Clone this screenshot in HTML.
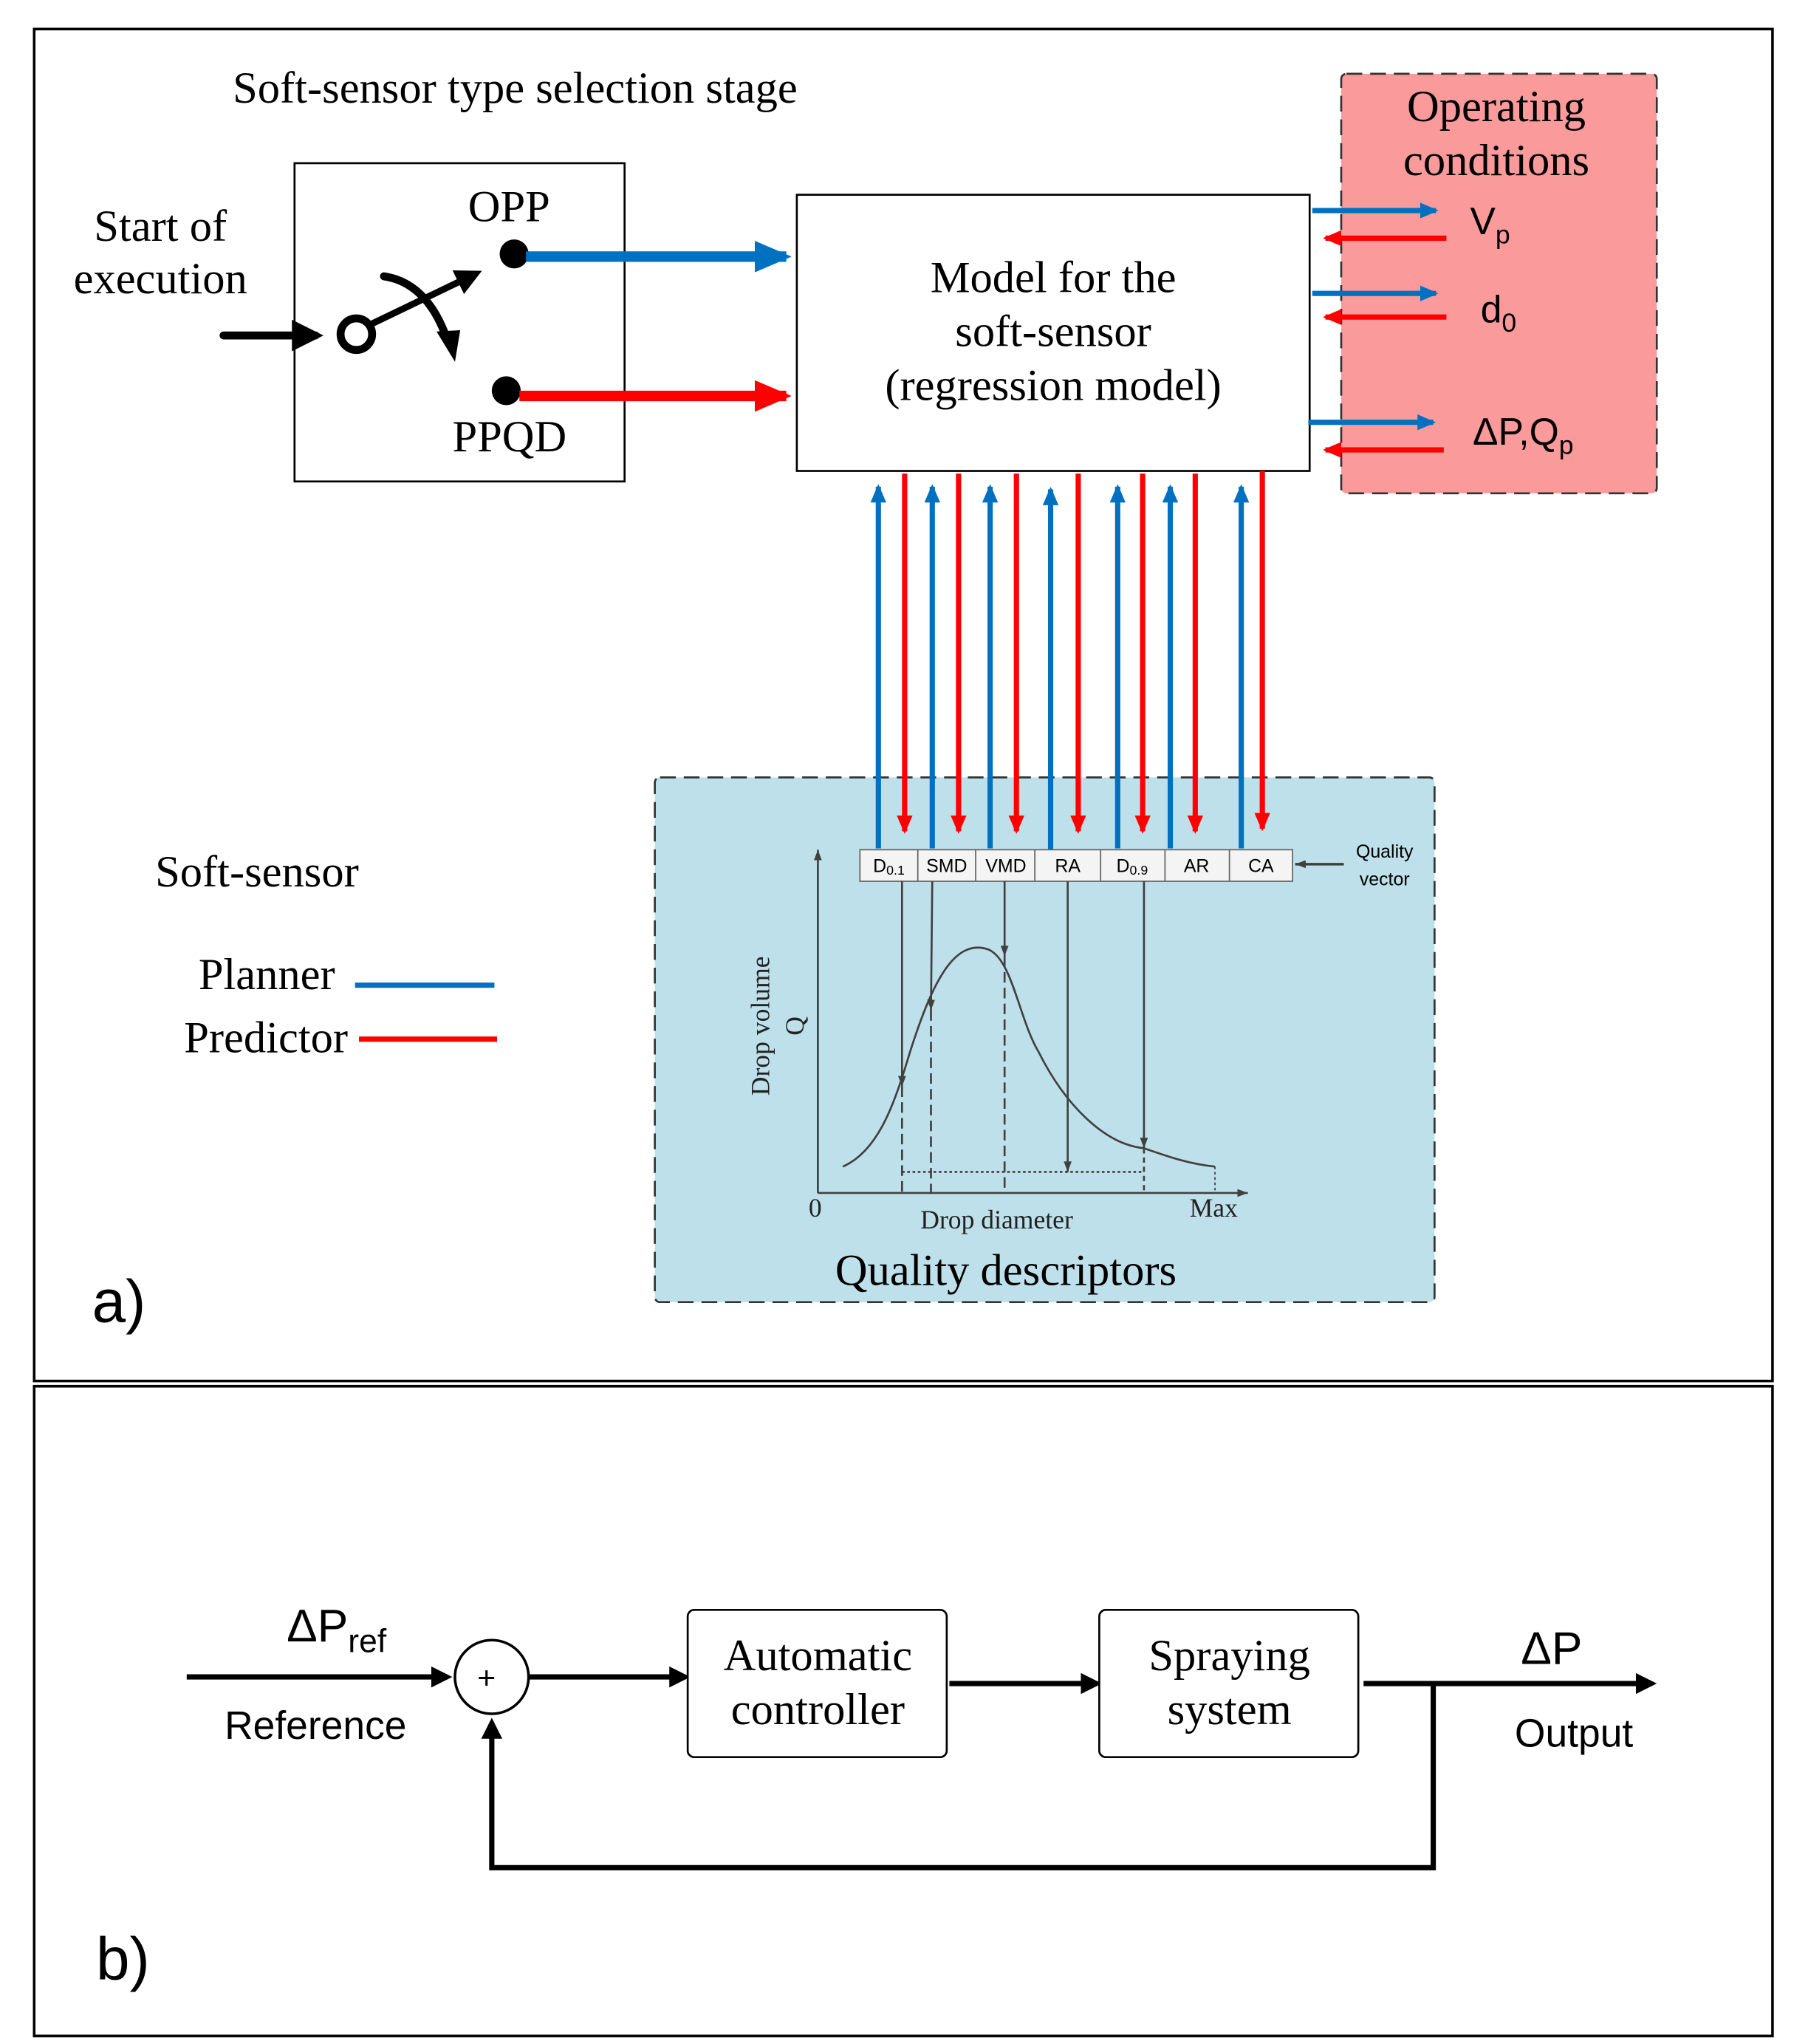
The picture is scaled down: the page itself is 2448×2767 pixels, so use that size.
<!DOCTYPE html>
<html><head><meta charset="utf-8"><style>
html,body{margin:0;padding:0;background:#fff}
svg{display:block}
.s{font-family:"Liberation Serif",serif}
.a{font-family:"Liberation Sans",sans-serif}
</style></head><body>
<svg width="2448" height="2767" viewBox="0 0 1375 1554" xmlns="http://www.w3.org/2000/svg">
<defs>
<marker id="bk" markerWidth="4" markerHeight="4" refX="3" refY="2" orient="auto" markerUnits="strokeWidth"><path d="M0,0 L4,2 L0,4 z" fill="#000"/></marker>
<marker id="bl" markerWidth="3.5" markerHeight="3" refX="3" refY="1.5" orient="auto" markerUnits="strokeWidth"><path d="M0,0 L3.5,1.5 L0,3 z" fill="#0070c0"/></marker>
<marker id="rd" markerWidth="3.5" markerHeight="3" refX="3" refY="1.5" orient="auto" markerUnits="strokeWidth"><path d="M0,0 L3.5,1.5 L0,3 z" fill="#ff0000"/></marker>
<marker id="gy" markerWidth="8" markerHeight="6" refX="8" refY="3" orient="auto" markerUnits="userSpaceOnUse"><path d="M0,0 L8,3 L0,6 z" fill="#404040"/></marker>
</defs>
<rect width="1375" height="1554" fill="#fff"/>
<rect x="26" y="22" width="1322" height="1028" fill="none" stroke="#000" stroke-width="2"/>
<rect x="26" y="1054" width="1322" height="494" fill="none" stroke="#000" stroke-width="2"/>

<text x="177" y="78" class="s" font-size="34">Soft-sensor type selection stage</text>
<rect x="224" y="124" width="251" height="242" fill="none" stroke="#000" stroke-width="1.5"/>
<text x="356" y="168" class="s" font-size="34">OPP</text>
<text x="344" y="343" class="s" font-size="34">PPQD</text>
<text x="122" y="183" class="s" font-size="34" text-anchor="middle">Start of</text>
<text x="122" y="223" class="s" font-size="34" text-anchor="middle">execution</text>
<line x1="170" y1="255" x2="240" y2="255" stroke="#000" stroke-width="6" stroke-linecap="round" marker-end="url(#bk)"/>
<circle cx="271" cy="254" r="12" fill="#fff" stroke="#000" stroke-width="6"/>
<line x1="283" y1="246" x2="362" y2="208" stroke="#000" stroke-width="5" marker-end="url(#bk)"/>
<path d="M292,210 Q325,215 340,258" fill="none" stroke="#000" stroke-width="6" stroke-linecap="round"/>
<path d="M332,252 L350,251 L346,275 z" fill="#000"/>
<circle cx="391" cy="193" r="11" fill="#000"/>
<circle cx="385" cy="297" r="11" fill="#000"/>
<line x1="400" y1="195" x2="598" y2="195" stroke="#0070c0" stroke-width="8" marker-end="url(#bl)"/>
<line x1="395" y1="301" x2="598" y2="301" stroke="#ff0000" stroke-width="8" marker-end="url(#rd)"/>

<rect x="606" y="148" width="390" height="210" fill="#fff" stroke="#000" stroke-width="1.5"/>
<text x="801" y="222" class="s" font-size="34" text-anchor="middle">Model for the</text>
<text x="801" y="263" class="s" font-size="34" text-anchor="middle">soft-sensor</text>
<text x="801" y="304" class="s" font-size="34" text-anchor="middle">(regression model)</text>

<rect x="1020" y="56" width="240" height="319" rx="4" fill="#fa9a9a" stroke="#333" stroke-width="1.5" stroke-dasharray="12,6"/>
<text x="1138" y="92" class="s" font-size="34" text-anchor="middle">Operating</text>
<text x="1138" y="133" class="s" font-size="34" text-anchor="middle">conditions</text>
<line x1="998" y1="160" x2="1092" y2="160" stroke="#0070c0" stroke-width="4" marker-end="url(#bl)"/>
<line x1="1100" y1="181" x2="1008" y2="181" stroke="#ff0000" stroke-width="4" marker-end="url(#rd)"/>
<line x1="998" y1="223" x2="1092" y2="223" stroke="#0070c0" stroke-width="4" marker-end="url(#bl)"/>
<line x1="1100" y1="241" x2="1008" y2="241" stroke="#ff0000" stroke-width="4" marker-end="url(#rd)"/>
<line x1="995" y1="321" x2="1090" y2="321" stroke="#0070c0" stroke-width="4" marker-end="url(#bl)"/>
<line x1="1098" y1="342" x2="1008" y2="342" stroke="#ff0000" stroke-width="4" marker-end="url(#rd)"/>
<text x="1118" y="178" class="a" font-size="29">V<tspan font-size="20" dy="7">p</tspan></text>
<text x="1126" y="245" class="a" font-size="29">d<tspan font-size="20" dy="7">0</tspan></text>
<text x="1120" y="338" class="a" font-size="29">ΔP,Q<tspan font-size="20" dy="7">p</tspan></text>

<rect x="498" y="591" width="593" height="399" rx="4" fill="#bde0ea" stroke="#333" stroke-width="1.5" stroke-dasharray="12,6"/>
<text x="765" y="977" class="s" font-size="34" text-anchor="middle">Quality descriptors</text>

<g stroke="#0070c0" stroke-width="4">
<line x1="668" y1="645" x2="668" y2="370" marker-end="url(#bl)"/>
<line x1="709" y1="645" x2="709" y2="370" marker-end="url(#bl)"/>
<line x1="753" y1="645" x2="753" y2="370" marker-end="url(#bl)"/>
<line x1="799" y1="648" x2="799" y2="372" marker-end="url(#bl)"/>
<line x1="850" y1="645" x2="850" y2="370" marker-end="url(#bl)"/>
<line x1="890" y1="645" x2="890" y2="370" marker-end="url(#bl)"/>
<line x1="944" y1="645" x2="944" y2="370" marker-end="url(#bl)"/>
</g>
<g stroke="#ff0000" stroke-width="4">
<line x1="688" y1="360" x2="688" y2="632" marker-end="url(#rd)"/>
<line x1="729" y1="360" x2="729" y2="632" marker-end="url(#rd)"/>
<line x1="773" y1="360" x2="773" y2="632" marker-end="url(#rd)"/>
<line x1="820" y1="360" x2="820" y2="632" marker-end="url(#rd)"/>
<line x1="869" y1="360" x2="869" y2="632" marker-end="url(#rd)"/>
<line x1="909" y1="360" x2="909" y2="632" marker-end="url(#rd)"/>
<line x1="960" y1="358" x2="960" y2="630" marker-end="url(#rd)"/>
</g>

<rect x="654" y="646" width="329" height="24" fill="#f4f4f4" stroke="#666" stroke-width="1"/>
<g stroke="#666" stroke-width="1">
<line x1="698" y1="646" x2="698" y2="670"/><line x1="742" y1="646" x2="742" y2="670"/>
<line x1="787" y1="646" x2="787" y2="670"/><line x1="837" y1="646" x2="837" y2="670"/>
<line x1="886" y1="646" x2="886" y2="670"/><line x1="935" y1="646" x2="935" y2="670"/>
</g>
<g class="a" font-size="14" text-anchor="middle">
<text x="676" y="663">D<tspan font-size="10" dy="2">0.1</tspan></text>
<text x="720" y="663">SMD</text><text x="765" y="663">VMD</text><text x="812" y="663">RA</text>
<text x="861" y="663">D<tspan font-size="10" dy="2">0.9</tspan></text>
<text x="910" y="663">AR</text><text x="959" y="663">CA</text>
</g>
<text x="1053" y="652" class="a" font-size="14" text-anchor="middle">Quality</text>
<text x="1053" y="673" class="a" font-size="14" text-anchor="middle">vector</text>
<line x1="1022" y1="657" x2="985" y2="657" stroke="#404040" stroke-width="2" marker-end="url(#gy)"/>

<g stroke="#404040" stroke-width="1.5" fill="none">
<line x1="622" y1="907" x2="622" y2="646" marker-end="url(#gy)"/>
<line x1="622" y1="907" x2="949" y2="907" marker-end="url(#gy)"/>
<path d="M641,887 C668,875 680,840 692,800 C708,750 725,712 752,722 C770,730 775,775 790,800 C810,840 840,870 870,873 C890,880 905,885 924,887"/>
<line x1="686" y1="670" x2="686" y2="826" marker-end="url(#gy)"/>
<line x1="686" y1="826" x2="686" y2="907" stroke-dasharray="8,4"/>
<line x1="709" y1="670" x2="708" y2="768" marker-end="url(#gy)"/>
<line x1="708" y1="768" x2="708" y2="907" stroke-dasharray="8,4"/>
<line x1="764" y1="670" x2="764" y2="727" marker-end="url(#gy)"/>
<line x1="764" y1="727" x2="764" y2="907" stroke-dasharray="8,4"/>
<line x1="812" y1="670" x2="812" y2="891" marker-end="url(#gy)"/>
<line x1="870" y1="670" x2="870" y2="873" marker-end="url(#gy)"/>
<line x1="870" y1="873" x2="870" y2="907" stroke-dasharray="4,3"/>
<line x1="686" y1="891" x2="870" y2="891" stroke-dasharray="2,2"/>
<line x1="924" y1="887" x2="924" y2="907" stroke-dasharray="2,2" stroke-width="1"/>
</g>
<text x="620" y="925" class="s" font-size="20" text-anchor="middle" fill="#222">0</text>
<text x="758" y="934" class="s" font-size="20" text-anchor="middle" fill="#222">Drop diameter</text>
<text x="923" y="925" class="s" font-size="20" text-anchor="middle" fill="#222">Max</text>
<text transform="translate(585,780) rotate(-90)" class="s" font-size="20" text-anchor="middle" fill="#222">Drop volume</text>
<text transform="translate(611,780) rotate(-90)" class="s" font-size="20" text-anchor="middle" fill="#222">Q</text>

<text x="118" y="674" class="s" font-size="34">Soft-sensor</text>
<text x="151" y="752" class="s" font-size="34">Planner</text>
<line x1="270" y1="749" x2="376" y2="749" stroke="#0070c0" stroke-width="4"/>
<text x="140" y="800" class="s" font-size="34">Predictor</text>
<line x1="273" y1="790" x2="378" y2="790" stroke="#ff0000" stroke-width="4"/>
<text x="70" y="1005" class="a" font-size="46">a)</text>

<text x="218" y="1248" class="a" font-size="35">ΔP<tspan font-size="25" dy="8">ref</tspan></text>
<text x="240" y="1322" class="a" font-size="30" text-anchor="middle">Reference</text>
<line x1="142" y1="1275" x2="340" y2="1275" stroke="#000" stroke-width="4" marker-end="url(#bk)"/>
<circle cx="374" cy="1275" r="28" fill="#fff" stroke="#000" stroke-width="2"/>
<text x="363" y="1284" class="a" font-size="24">+</text>
<line x1="402" y1="1275" x2="521" y2="1275" stroke="#000" stroke-width="4" marker-end="url(#bk)"/>
<rect x="523" y="1224" width="197" height="112" rx="5" fill="#fff" stroke="#000" stroke-width="1.5"/>
<text x="622" y="1270" class="s" font-size="34" text-anchor="middle">Automatic</text>
<text x="622" y="1311" class="s" font-size="34" text-anchor="middle">controller</text>
<line x1="722" y1="1280" x2="834" y2="1280" stroke="#000" stroke-width="4" marker-end="url(#bk)"/>
<rect x="836" y="1224" width="197" height="112" rx="5" fill="#fff" stroke="#000" stroke-width="1.5"/>
<text x="935" y="1270" class="s" font-size="34" text-anchor="middle">Spraying</text>
<text x="935" y="1311" class="s" font-size="34" text-anchor="middle">system</text>
<line x1="1037" y1="1280" x2="1256" y2="1280" stroke="#000" stroke-width="4" marker-end="url(#bk)"/>
<text x="1180" y="1265" class="a" font-size="35" text-anchor="middle">ΔP</text>
<text x="1197" y="1328" class="a" font-size="30" text-anchor="middle">Output</text>
<polyline points="1090,1280 1090,1420 374,1420 374,1310" fill="none" stroke="#000" stroke-width="4" marker-end="url(#bk)"/>
<text x="73" y="1505" class="a" font-size="46">b)</text>
</svg>
</body></html>
